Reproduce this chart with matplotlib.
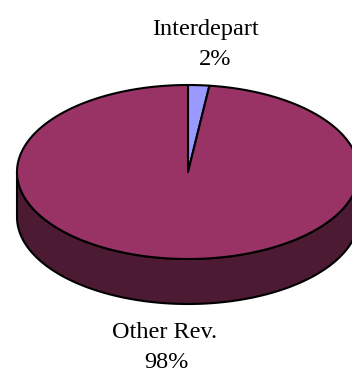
"""
3D-Tortendiagramm: Anteil Interdepart vs. Other Rev.
"""

import matplotlib.pyplot as plt
import numpy as np
from matplotlib.patches import Polygon

# Daten
labels = ['Interdepart', 'Other Rev.']
anteile = [2, 98]
farben_oben = ['#9999FF', '#993366']
farben_seite = ['#4C4C80', '#4C1A33']

# Geometrie der Torte (Pixel)
cx, cy = 188, 172
a, b = 171, 87
tiefe = 45

fig = plt.figure(figsize=(3.52, 3.78), dpi=100)
ax = fig.add_axes([0, 0, 1, 1])
ax.set_xlim(0, 352)
ax.set_ylim(378, 0)
ax.axis('off')


def punkt(theta, dy=0):
    t = np.radians(theta)
    return cx + a * np.cos(t), cy - b * np.sin(t) + dy


# Winkel der Stücke (Start oben, im Uhrzeigersinn)
grenzen = 90 - 360 * np.cumsum([0] + anteile) / sum(anteile)

# Seitenwand (nur vordere Hälfte sichtbar)
for i in range(len(anteile)):
    t0, t1 = grenzen[i], grenzen[i + 1]
    for off in (0, -360):
        lo = max(min(t0, t1) + off, -180)
        hi = min(max(t0, t1) + off, 0)
        if hi <= lo:
            continue
        th = np.linspace(lo, hi, 200)
        oben = [punkt(t) for t in th]
        unten = [punkt(t, tiefe) for t in th[::-1]]
        ax.add_patch(Polygon(oben + unten, closed=True, facecolor=farben_seite[i],
                             edgecolor='black', linewidth=1.5, joinstyle='round'))

# Deckfläche
for i in range(len(anteile)):
    th = np.linspace(grenzen[i], grenzen[i + 1], 300)
    pts = [(cx, cy)] + [punkt(t) for t in th]
    ax.add_patch(Polygon(pts, closed=True, facecolor=farben_oben[i],
                         edgecolor='black', linewidth=1.5, joinstyle='round'))

# Beschriftungen
schrift = dict(family=['Liberation Serif', 'DejaVu Serif'], fontsize=17.5,
               color='black', ha='center', va='baseline')
ax.text(206, 35, labels[0], **schrift)
ax.text(215, 65, f'{anteile[0]}%', **schrift)
ax.text(165, 338, labels[1], **schrift)
ax.text(166, 368, f'{anteile[1]}%', **schrift)

plt.savefig('out.png', dpi=100)
